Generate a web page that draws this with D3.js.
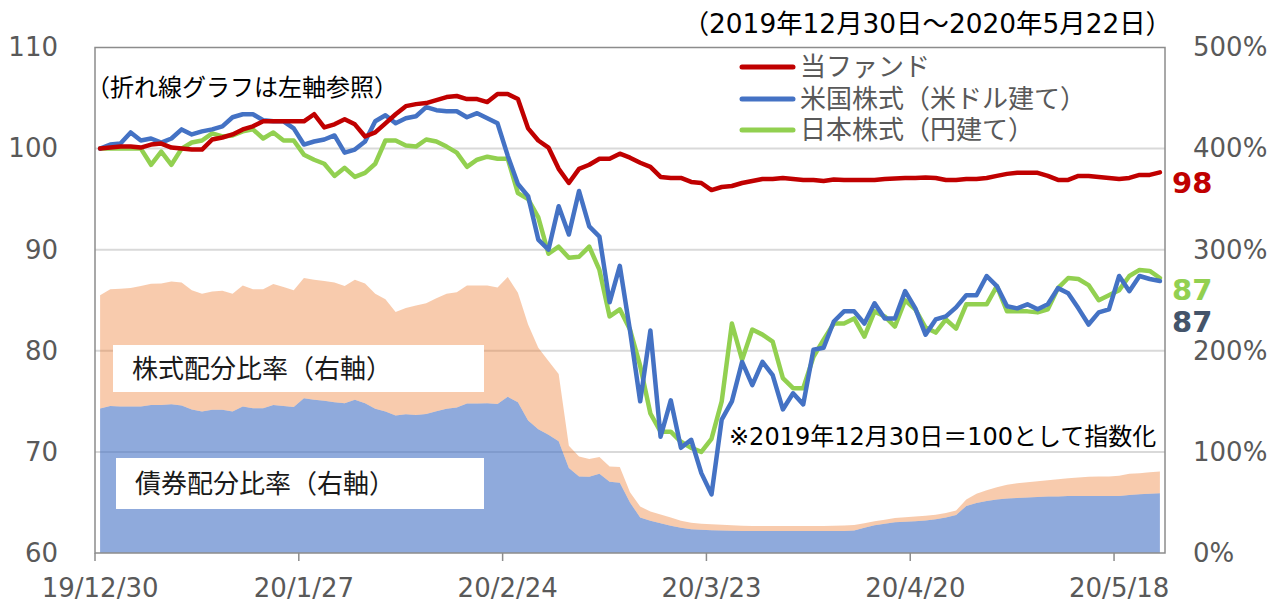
<!DOCTYPE html>
<html>
<head>
<meta charset="utf-8">
<script src="https://cdn.jsdelivr.net/npm/d3@7"></script>
<style>
  body { margin: 0; background: #fff; }
  svg text { font-family: "DejaVu Sans", "Noto Sans CJK JP", sans-serif; }
</style>
</head>
<body>
<div id="chart"></div>
<script>
// 当ファンド (left axis, index)
const fund = [100.0,100.1,100.2,100.2,100.1,100.4,100.5,100.1,100.0,99.9,
  99.9,100.9,101.1,101.4,101.9,102.2,102.7,102.7,102.7,102.7,
  102.7,103.4,102.1,102.4,102.9,102.4,101.2,101.6,102.5,103.4,
  104.2,104.4,104.5,104.8,105.1,105.2,104.9,104.9,104.6,105.4,
  105.4,104.9,102.0,100.8,100.1,98.0,96.6,98.0,98.4,99.0,
  99.0,99.5,99.1,98.6,98.2,97.2,97.1,97.1,96.7,96.6,
  95.9,96.2,96.3,96.6,96.8,97.0,97.0,97.1,97.0,96.9,
  96.9,96.8,96.95,96.9,96.9,96.9,96.9,97.0,97.05,97.1,
  97.1,97.15,97.1,96.9,96.9,97.0,97.0,97.1,97.3,97.5,
  97.6,97.6,97.6,97.3,96.9,96.9,97.3,97.3,97.2,97.1,
  97.0,97.1,97.4,97.4,97.65];

// 米国株式（米ドル建て）
const usStock = [100.0,100.4,100.5,101.6,100.8,101.0,100.6,101.0,101.9,101.4,
  101.7,101.9,102.2,103.1,103.4,103.4,102.8,102.7,102.7,102.0,
  100.4,100.7,100.9,101.3,99.6,99.9,100.7,102.7,103.3,102.5,
  103.0,103.2,104.1,103.8,103.7,103.7,103.1,103.5,103.0,102.5,
  99.3,96.5,95.3,91.0,90.0,94.3,91.5,95.8,92.3,91.3,
  84.8,88.4,82.0,75.0,82.0,71.5,75.1,70.4,71.2,67.9,
  65.8,73.2,75.0,78.9,76.6,78.9,77.6,74.2,75.8,74.7,
  80.1,80.3,82.9,83.9,83.9,82.7,84.7,83.2,83.2,85.9,
  84.2,81.6,83.1,83.4,84.3,85.5,85.5,87.4,86.4,84.4,
  84.2,84.6,84.1,84.6,86.2,85.7,84.2,82.6,83.8,84.1,
  87.4,85.9,87.4,87.1,86.9];

// 日本株式（円建て）
const jpStock = [100.0,100.0,100.0,100.0,100.0,98.4,99.7,98.4,100.0,100.6,
  100.8,101.5,101.2,101.3,101.7,101.9,101.0,101.6,100.8,100.8,
  99.4,98.9,98.5,97.3,98.1,97.2,97.6,98.5,100.8,100.8,
  100.3,100.2,100.9,100.7,100.2,99.6,98.2,98.9,99.2,99.0,
  99.0,95.6,95.0,93.2,89.6,90.3,89.2,89.3,90.3,88.0,
  83.4,84.1,82.1,78.5,73.8,72.0,72.0,71.0,70.4,70.0,
  71.3,75.0,82.7,79.1,82.1,81.6,80.9,77.3,76.3,76.3,
  79.4,81.1,82.7,82.7,83.2,81.4,83.9,83.4,82.4,85.0,
  84.1,82.3,81.8,83.1,82.2,84.6,84.6,84.6,86.4,83.9,
  83.9,83.9,83.8,84.1,86.2,87.2,87.1,86.5,85.0,85.5,
  86.0,87.4,88.0,87.9,87.2];

// 債券配分比率 (right axis, %)
const bondRatio = [143,145.5,145,145,145,146.5,146.3,147.2,146,142,
  140,141.6,141.6,140,144.9,143.2,143.2,146.5,145.5,144.5,
  153.1,151.5,150.5,149.2,148,151.5,148.2,142.6,140,136,
  137.3,136.6,137.5,140.2,142.6,143.9,147.9,147.9,148,147.5,
  154.5,149,131,122.5,117,110.5,84,75.6,75.5,78.5,
  70.5,69.5,50,35,32,29.5,27,25,23.5,23,
  22.5,22.3,22,21.8,21.8,21.8,21.8,21.8,21.8,21.8,
  21.8,21.8,21.8,21.8,22.2,25,27.5,29,30.5,31,
  31.5,32.2,33.5,35,37.5,46.5,49.5,51.5,53,54,
  54.5,54.8,55.3,55.8,56,56.3,56.5,56.5,56.5,56.5,
  56.5,57.4,58,58.5,59];

// 株式配分比率 (right axis, %)
const stockRatio = [112,115.5,116.4,117,119,119.8,120.2,121.4,121.5,118,
  116.4,117.1,117.8,116.4,119.7,117.8,117.8,119.5,117.5,115.5,
  118.8,118.8,118.5,118.3,116,118.8,118.3,113.8,111,102.3,
  105,108.3,109.5,111.8,113.8,114.1,116.7,116.7,116.6,115,
  118.5,108.5,95,80.5,73,66.5,22,19.9,17.5,16.5,
  15,15.5,10,11,9,8.5,8,7,6.5,6,
  6,5.7,5.5,5.2,5,5,5,5,5,5,
  5,5,5.2,5.4,5.5,4.5,4,4,4,4.3,
  4.5,4.6,4.3,4.5,4.5,6.5,9,10.5,12,13.5,
  14.5,15.2,15.7,16.2,17,17.7,18.2,18.8,19.2,19.2,
  20,21,21,21.3,21.6];

const tickLabels = ["19/12/30", "20/1/27", "20/2/24", "20/3/23", "20/4/20", "20/5/18"];
const leftTicks = [60, 70, 80, 90, 100, 110];
const rightTicks = [0, 100, 200, 300, 400, 500];
const gridTicks = [70, 80, 90, 100];

// business days 2019/12/30 - 2020/5/22
const parseDay = d3.timeParse("%Y-%m-%d");
const fmtDay = d3.timeFormat("%y/%-m/%-d");
const dates = d3.timeDay.range(parseDay("2019-12-30"), parseDay("2020-05-23"))
  .filter(d => d.getDay() !== 0 && d.getDay() !== 6)
  .map(fmtDay);

const w = 1277, h = 606;
const plot = { left: 95, right: 1165, top: 47.5, bottom: 553 };

const svg = d3.select("#chart").append("svg")
  .attr("width", w)
  .attr("height", h);

const x = d3.scaleBand().domain(dates).range([plot.left, plot.right]);
const cx = d => x(d) + x.bandwidth() / 2;
const yL = d3.scaleLinear().domain([60, 110]).range([plot.bottom, plot.top]);
const yR = d3.scaleLinear().domain([0, 500]).range([plot.bottom, plot.top]);

// gridlines (under the semi-transparent areas)
svg.append("g").selectAll("line")
  .data(gridTicks)
  .enter().append("line")
  .attr("x1", plot.left).attr("x2", plot.right)
  .attr("y1", d => yL(d)).attr("y2", d => yL(d))
  .attr("stroke", "#d9d9d9")
  .attr("stroke-width", 2);

// stacked allocation areas
const rows = dates.map((d, i) => ({ date: d, bond: bondRatio[i], stock: stockRatio[i] }));
const stacked = d3.stack().keys(["bond", "stock"])(rows);
const areaStyle = {
  bond: { fill: "#4472c4", opacity: 0.6 },
  stock: { fill: "#ed7d31", opacity: 0.4 }
};
const area = d3.area()
  .x(d => cx(d.data.date))
  .y0(d => yR(d[0]))
  .y1(d => yR(d[1]));
svg.append("g").selectAll("path")
  .data(stacked)
  .enter().append("path")
  .attr("d", area)
  .attr("fill", d => areaStyle[d.key].fill)
  .attr("fill-opacity", d => areaStyle[d.key].opacity);

// white label boxes for the areas
const boxes = [
  { text: "株式配分比率（右軸）", x0: 113, y0: 345, x1: 484, y1: 392, ty: 369 },
  { text: "債券配分比率（右軸）", x0: 116, y0: 458, x1: 484, y1: 509, ty: 484 }
];
const boxG = svg.append("g").selectAll("g").data(boxes).enter().append("g");
boxG.append("rect")
  .attr("x", d => d.x0).attr("y", d => d.y0)
  .attr("width", d => d.x1 - d.x0).attr("height", d => d.y1 - d.y0)
  .attr("fill", "#fff");
boxG.append("text")
  .attr("x", d => d.x0 + 19).attr("y", d => d.ty)
  .attr("dominant-baseline", "central")
  .style("font-size", "26px")
  .attr("fill", "#1a1a1a")
  .text(d => d.text);

// lines
const series = [
  { name: "当ファンド", values: fund, color: "#c00000" },
  { name: "米国株式（米ドル建て）", values: usStock, color: "#4472c4" },
  { name: "日本株式（円建て）", values: jpStock, color: "#92d050" }
];
const line = d3.line()
  .x((d, i) => cx(dates[i]))
  .y(d => yL(d));
svg.append("g").selectAll("path")
  .data(series.slice().reverse())
  .enter().append("path")
  .attr("d", d => line(d.values))
  .attr("fill", "none")
  .attr("stroke", d => d.color)
  .attr("stroke-width", 4.5)
  .attr("stroke-linejoin", "round")
  .attr("stroke-linecap", "round");

// plot frame
svg.append("rect")
  .attr("x", plot.left).attr("y", plot.top)
  .attr("width", plot.right - plot.left).attr("height", plot.bottom - plot.top)
  .attr("fill", "none")
  .attr("stroke", "#8c8c8c")
  .attr("stroke-width", 1.5);

// axes
const yAxisL = svg.append("g")
  .attr("transform", `translate(${plot.left},0)`)
  .call(d3.axisLeft(yL).tickValues(leftTicks).tickSize(0).tickPadding(37));
const yAxisR = svg.append("g")
  .attr("transform", `translate(${plot.right},0)`)
  .call(d3.axisRight(yR).tickValues(rightTicks).tickSize(0).tickPadding(28).tickFormat(d => d + "%"));
const xAxis = svg.append("g")
  .attr("transform", `translate(0,${plot.bottom})`)
  .call(d3.axisBottom(x).tickValues(tickLabels).tickSize(8).tickPadding(18));
xAxis.selectAll(".tick line")
  .attr("x1", -x.bandwidth() / 2).attr("x2", -x.bandwidth() / 2)
  .attr("stroke", "#8c8c8c").attr("stroke-width", 1.5);

[yAxisL, yAxisR, xAxis].forEach(a => {
  a.select(".domain").remove();
  a.selectAll("text")
    .style("font-size", "26px")
    .style("font-family", "'DejaVu Sans', sans-serif")
    .attr("fill", "#595959");
});

// legend
const legend = svg.append("g").selectAll("g")
  .data(series)
  .enter().append("g")
  .attr("transform", (d, i) => `translate(742,${[67, 99, 130][i]})`);
legend.append("line")
  .attr("x1", 0).attr("x2", 51)
  .attr("stroke", d => d.color)
  .attr("stroke-width", 5)
  .attr("stroke-linecap", "round");
legend.append("text")
  .attr("x", 58)
  .attr("dominant-baseline", "central")
  .style("font-size", "26px")
  .attr("fill", "#595959")
  .text(d => d.name);

// end labels
const endLabels = [
  { text: "98", y: 183, color: "#c00000" },
  { text: "87", y: 290, color: "#92d050" },
  { text: "87", y: 322, color: "#44546a" }
];
svg.append("g").selectAll("text")
  .data(endLabels)
  .enter().append("text")
  .attr("x", 1172).attr("y", d => d.y)
  .attr("dominant-baseline", "central")
  .style("font-size", "29px")
  .style("font-weight", "bold")
  .attr("fill", d => d.color)
  .text(d => d.text);

// notes
svg.append("text")
  .attr("x", 1172).attr("y", 23)
  .attr("text-anchor", "end")
  .attr("dominant-baseline", "central")
  .style("font-size", "26.4px")
  .attr("fill", "#000")
  .text("（2019年12月30日～2020年5月22日）");
svg.append("text")
  .attr("x", 86).attr("y", 88)
  .attr("dominant-baseline", "central")
  .style("font-size", "24px")
  .attr("fill", "#000")
  .text("（折れ線グラフは左軸参照）");
svg.append("text")
  .attr("x", 729).attr("y", 437)
  .attr("dominant-baseline", "central")
  .style("font-size", "24px")
  .attr("fill", "#000")
  .text("※2019年12月30日＝100として指数化");
</script>
</body>
</html>
